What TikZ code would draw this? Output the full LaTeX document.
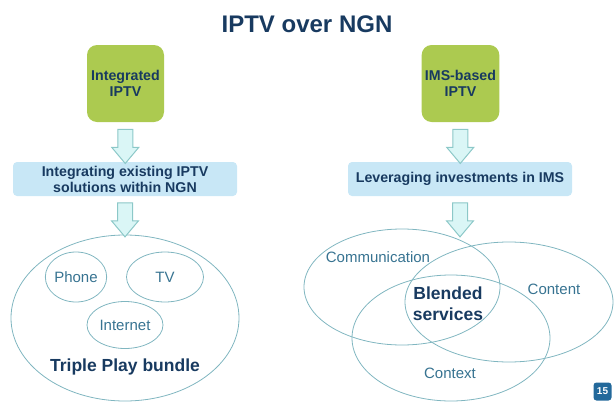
\documentclass[tikz,border=0pt]{standalone}
\usepackage{fontspec}
\setmainfont{Liberation Sans}
\usetikzlibrary{shapes.arrows,shapes.geometric,positioning}
\definecolor{navy}{RGB}{24,58,96}
\definecolor{leaf}{RGB}{172,202,80}
\definecolor{sky}{RGB}{200,231,246}
\definecolor{arrowfill}{RGB}{218,246,246}
\definecolor{arrowline}{RGB}{140,200,200}
\definecolor{ringline}{RGB}{128,182,192}
\definecolor{softtext}{RGB}{55,115,145}
\definecolor{badgeblue}{RGB}{35,105,155}

\tikzset{
  greenbox/.style={rounded corners=10pt, fill=leaf, minimum width=77pt, minimum height=77pt,
    align=center, text=navy, font=\bfseries\fontsize{14.2}{16}\selectfont},
  bluebox/.style={rounded corners=4pt, fill=sky, minimum width=224pt, minimum height=34pt,
    align=center, text=navy, font=\bfseries\fontsize{14.2}{16}\selectfont},
  blockarrow/.style={single arrow, draw=arrowline, fill=arrowfill, line width=1pt,
    inner xsep=0pt, inner ysep=7pt, minimum height=34pt, minimum width=26pt,
    single arrow head extend=6pt, single arrow tip angle=80, rotate=-90},
  ring/.style={ellipse, draw=ringline, line width=0.8pt, inner sep=0pt},
  soft/.style={text=softtext, font=\fontsize{15}{18}\selectfont},
  strong/.style={text=navy, align=center, font=\bfseries\fontsize{17.5}{21}\selectfont},
  badge/.style={rounded corners=3pt, fill=badgeblue, text=white, minimum size=18pt, inner sep=0pt,
    font=\bfseries\fontsize{10}{11}\selectfont}
}

\begin{document}
\begin{tikzpicture}[x=1pt, y=-1pt]
  \useasboundingbox (0,0) rectangle (614,402);

  % title
  \node[text=navy, font=\bfseries\fontsize{24}{28}\selectfont] (title) at (307,24) {IPTV over NGN};

  % left column
  \node[greenbox] (gL) at (125.5,83.5) {Integrated\\IPTV};
  \node[bluebox] (bL) at (125,179) {Integrating existing IPTV\\solutions within NGN};
  \node[ring, minimum width=228pt, minimum height=166pt] (bundle) at (125,318) {};
  \node[ring, soft, minimum width=61pt, minimum height=50pt] (phone) at (76,277) {Phone};
  \node[ring, soft, minimum width=77pt, minimum height=50pt] (tv) at (165,277) {TV};
  \node[ring, soft, minimum width=76pt, minimum height=47pt] (net) at (125,325) {Internet};
  \node[strong] (triple) at (125,367) {Triple Play bundle};

  % right column
  \node[greenbox] (gR) at (460.5,83.5) {IMS-based\\IPTV};
  \node[bluebox] (bR) at (460,179) {Leveraging investments in IMS};
  \node[ring, minimum width=196pt, minimum height=116pt] (comm) at (402,287) {};
  \node[ring, minimum width=208pt, minimum height=120pt] (cont) at (509,302) {};
  \node[ring, minimum width=198pt, minimum height=126pt] (ctx) at (451,338) {};
  \node[soft] (commtxt) at (378,257) {Communication};
  \node[soft] (conttxt) at (554,289) {Content};
  \node[soft] (ctxtxt) at (450,373) {Context};
  \node[strong] (blend) at (448,304) {Blended\\services};

  % arrows
  \path (gL.south) -- node[blockarrow] {} (bL.north);
  \path (bL.south) -- node[blockarrow] {} (bundle.north);
  \path (gR.south) -- node[blockarrow] {} (bR.north);
  \path (bR.south) -- node[blockarrow] {} (bR.south |- bundle.north);

  \node[badge] (page) at (602.5,391.5) {15};
\end{tikzpicture}
\end{document}
